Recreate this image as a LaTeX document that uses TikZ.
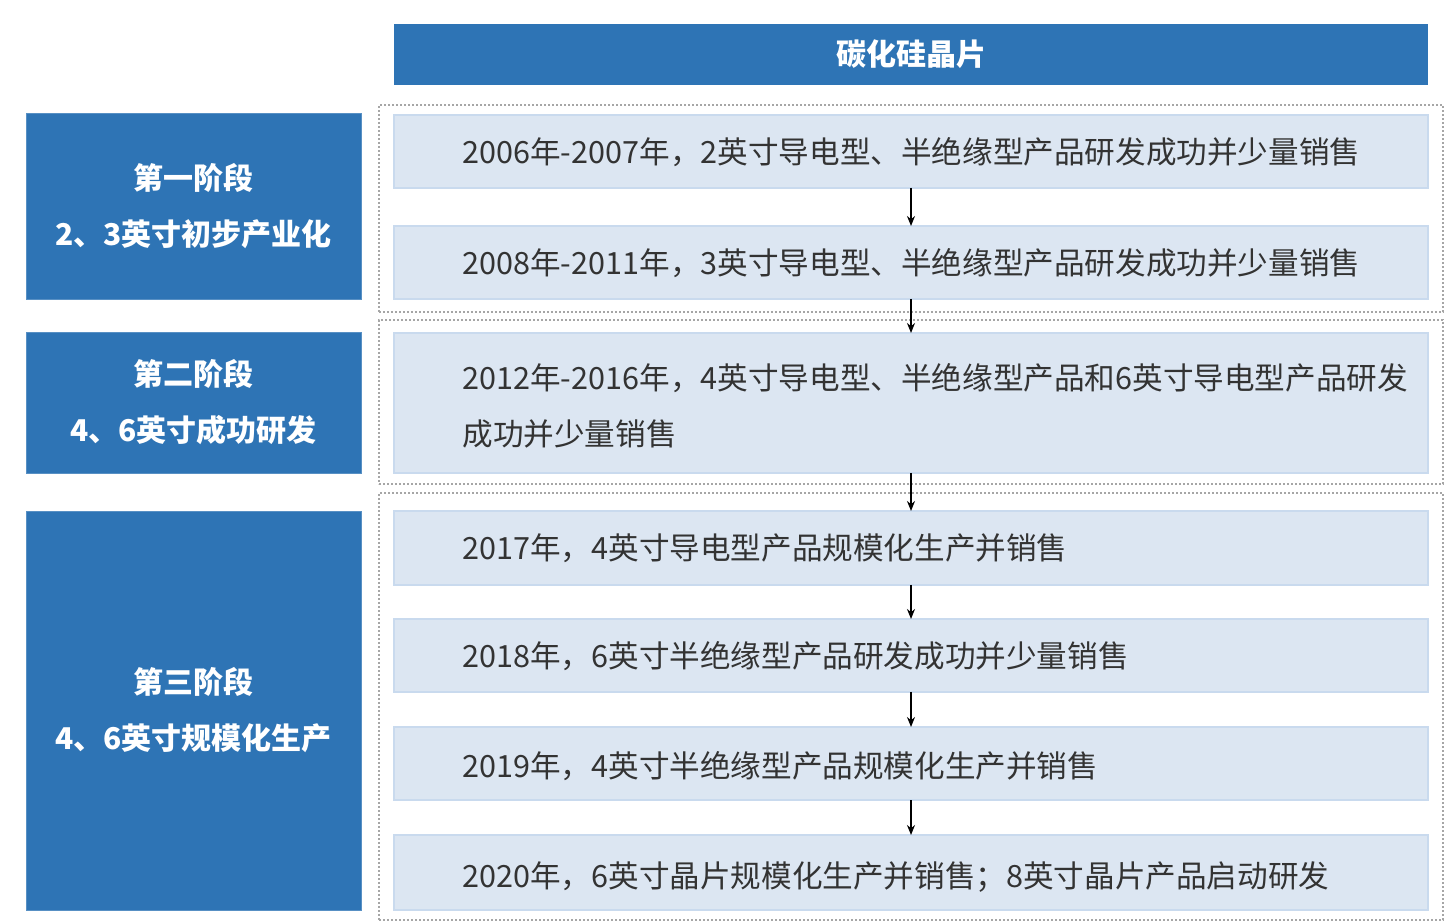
\documentclass[tikz,border=0pt]{standalone}
\usepackage{fontspec}
\usetikzlibrary{arrows.meta}
\newfontfamily\cjk{Noto Sans CJK SC}
\definecolor{azul}{HTML}{2E74B5}
\definecolor{celeste}{HTML}{DCE6F2}
\definecolor{bordeceleste}{HTML}{C9DAEE}
\definecolor{texto}{HTML}{333333}
\tikzset{
  etapa/.style={fill=azul, draw=azul!80, inner sep=0pt, outer sep=0pt, minimum width=167.5pt,
    text=white, align=center, font={\cjk\bfseries\fontsize{15}{28}\selectfont}},
  caja/.style={fill=celeste, draw=bordeceleste, line width=0.6pt, inner sep=0pt, outer sep=0pt, minimum width=517pt},
  grupo/.style={draw=gray!70, dash pattern=on 1.2pt off 0.8pt, line width=0.6pt, inner sep=0pt, minimum width=532pt},
  hito/.style={anchor=west, text=texto, align=left, inner sep=0pt, font={\cjk\fontsize{15.3}{28}\selectfont}},
}
\begin{document}
\begin{tikzpicture}[x=0.5pt, y=-0.5pt]
  \useasboundingbox (0,0) rectangle (1446,924);

  % Cabecera
  \node[fill=azul, inner sep=0pt, minimum width=517pt, minimum height=30.5pt, text=white,
    font={\cjk\bfseries\fontsize{15}{18}\selectfont}] (cab) at (911,54.5) {碳化硅晶片};

  % Grupos punteados
  \node[grupo, minimum height=103.5pt] (g1) at (911,208.5) {};
  \node[grupo, minimum height=82pt] (g2) at (911,402) {};
  \node[grupo, minimum height=213.5pt] (g3) at (911,706.5) {};

  % Etapas
  \node[etapa, minimum height=93pt] (e1) at (193.5,206) {第一阶段\\2、3英寸初步产业化};
  \node[etapa, minimum height=70.5pt] (e2) at (193.5,402.5) {第二阶段\\4、6英寸成功研发};
  \node[etapa, minimum height=199.5pt] (e3) at (193.5,710.5) {第三阶段\\4、6英寸规模化生产};

  % Cajas
  \node[caja, minimum height=36.5pt] (b1) at (911,151.5) {};
  \node[caja, minimum height=36.5pt] (b2) at (911,262.5) {};
  \node[caja, minimum height=70pt] (b3) at (911,403) {};
  \node[caja, minimum height=37pt] (b4) at (911,548) {};
  \node[caja, minimum height=36.5pt] (b5) at (911,655.5) {};
  \node[caja, minimum height=36.5pt] (b6) at (911,763.5) {};
  \node[caja, minimum height=37.5pt] (b7) at (911,872.5) {};

  % Textos
  \node[hito] (t1) at (462,152) {2006年-2007年，2英寸导电型、半绝缘型产品研发成功并少量销售};
  \node[hito] (t2) at (462,263) {2008年-2011年，3英寸导电型、半绝缘型产品研发成功并少量销售};
  \node[hito] (t3) at (462,406) {2012年-2016年，4英寸导电型、半绝缘型产品和6英寸导电型产品研发\\成功并少量销售};
  \node[hito] (t4) at (462,548) {2017年，4英寸导电型产品规模化生产并销售};
  \node[hito] (t5) at (462,656) {2018年，6英寸半绝缘型产品研发成功并少量销售};
  \node[hito] (t6) at (462,766) {2019年，4英寸半绝缘型产品规模化生产并销售};
  \node[hito] (t7) at (462,877) {2020年，6英寸晶片规模化生产并销售；8英寸晶片产品启动研发};

  % Flechas
  \foreach \a/\b in {b1/b2, b2/b3, b3/b4, b4/b5, b5/b6, b6/b7}
    \draw[-{Stealth[length=5pt,width=4pt]}, line width=0.8pt] (\a.south) -- (\b.north);
\end{tikzpicture}
\end{document}
